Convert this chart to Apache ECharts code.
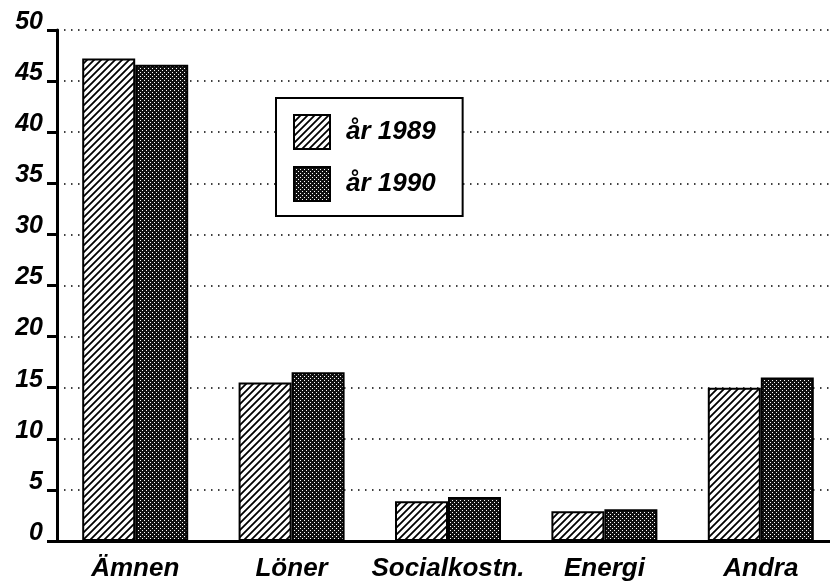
<!DOCTYPE html>
<html>
<head>
<meta charset="utf-8">
<script src="https://cdn.jsdelivr.net/npm/echarts@6/dist/echarts.min.js"></script>
<style>html,body{margin:0;padding:0;background:#fff}#c{width:830px;height:588px}</style>
</head>
<body>
<div id="c"></div>
<script>
var categories = ['Ämnen', 'Löner', 'Socialkostn.', 'Energi', 'Andra'];
var values1989 = [47.2, 15.5, 3.9, 2.9, 15.0];
var values1990 = [46.6, 16.5, 4.3, 3.1, 16.0];
var seriesNames = ['år 1989', 'år 1990'];
var yTicks = [0, 5, 10, 15, 20, 25, 30, 35, 40, 45, 50];

function hatchPattern() {
  var c = document.createElement('canvas');
  c.width = 7; c.height = 7;
  var g = c.getContext('2d');
  g.fillStyle = '#fff'; g.fillRect(0, 0, 7, 7);
  g.strokeStyle = '#000'; g.lineWidth = 1.8;
  g.beginPath();
  g.moveTo(-1, 8); g.lineTo(8, -1);
  g.moveTo(-1, 1); g.lineTo(1, -1);
  g.moveTo(6, 8); g.lineTo(8, 6);
  g.stroke();
  return c;
}
function dotPattern() {
  var c = document.createElement('canvas');
  c.width = 4; c.height = 4;
  var g = c.getContext('2d');
  g.fillStyle = '#111'; g.fillRect(0, 0, 4, 4);
  g.fillStyle = '#fff';
  g.fillRect(0, 0, 1, 1);
  g.fillRect(2, 2, 1, 1);
  return c;
}
var font = '"Liberation Sans", Arial, sans-serif';
var chart = echarts.init(document.getElementById('c'), null, {renderer: 'canvas'});
chart.setOption({
  animation: false,
  backgroundColor: '#fff',
  grid: {left: 57, right: -9, top: 30, bottom: 47, containLabel: false, outerBoundsMode: 'none'},
  legend: {
    orient: 'vertical', left: 276, top: 98,
    padding: [16, 27, 14, 17],
    icon: 'rect',
    itemWidth: 36, itemHeight: 34, itemGap: 16,
    borderColor: '#000', borderWidth: 2, backgroundColor: '#fff',
    textStyle: {fontFamily: font, fontSize: 26, fontWeight: 'bold', fontStyle: 'italic', color: '#000', padding: [0, 0, 0, 11]},
    data: seriesNames
  },
  xAxis: {
    type: 'category', data: categories,
    axisLine: {lineStyle: {color: '#000', width: 3}},
    axisTick: {show: false},
    axisLabel: {interval: 0, fontFamily: font, fontSize: 26, fontWeight: 'bold', fontStyle: 'italic', color: '#000', margin: 15}
  },
  yAxis: {
    type: 'value', min: 0, max: 50, interval: 5,
    axisLine: {show: true, lineStyle: {color: '#000', width: 3}},
    axisTick: {show: true, length: 10, lineStyle: {color: '#000', width: 3}},
    axisLabel: {fontFamily: font, fontSize: 25, fontWeight: 'bold', fontStyle: 'italic', color: '#000', margin: 14,
      verticalAlign: 'bottom', lineHeight: 16,
      formatter: function (v) { return yTicks.indexOf(v) >= 0 ? String(v) : ''; }},
    splitLine: {show: true, lineStyle: {color: '#000', width: 1.5, type: [1.5, 5.5]}}
  },
  series: [
    {name: seriesNames[0], type: 'bar', data: values1989, barWidth: 53, barGap: '0%',
      itemStyle: {color: {image: hatchPattern(), repeat: 'repeat'}, borderColor: '#000', borderWidth: 2}},
    {name: seriesNames[1], type: 'bar', data: values1990, barWidth: 53, barGap: '0%',
      itemStyle: {color: {image: dotPattern(), repeat: 'repeat'}, borderColor: '#000', borderWidth: 2}}
  ]
});
</script>
</body>
</html>
